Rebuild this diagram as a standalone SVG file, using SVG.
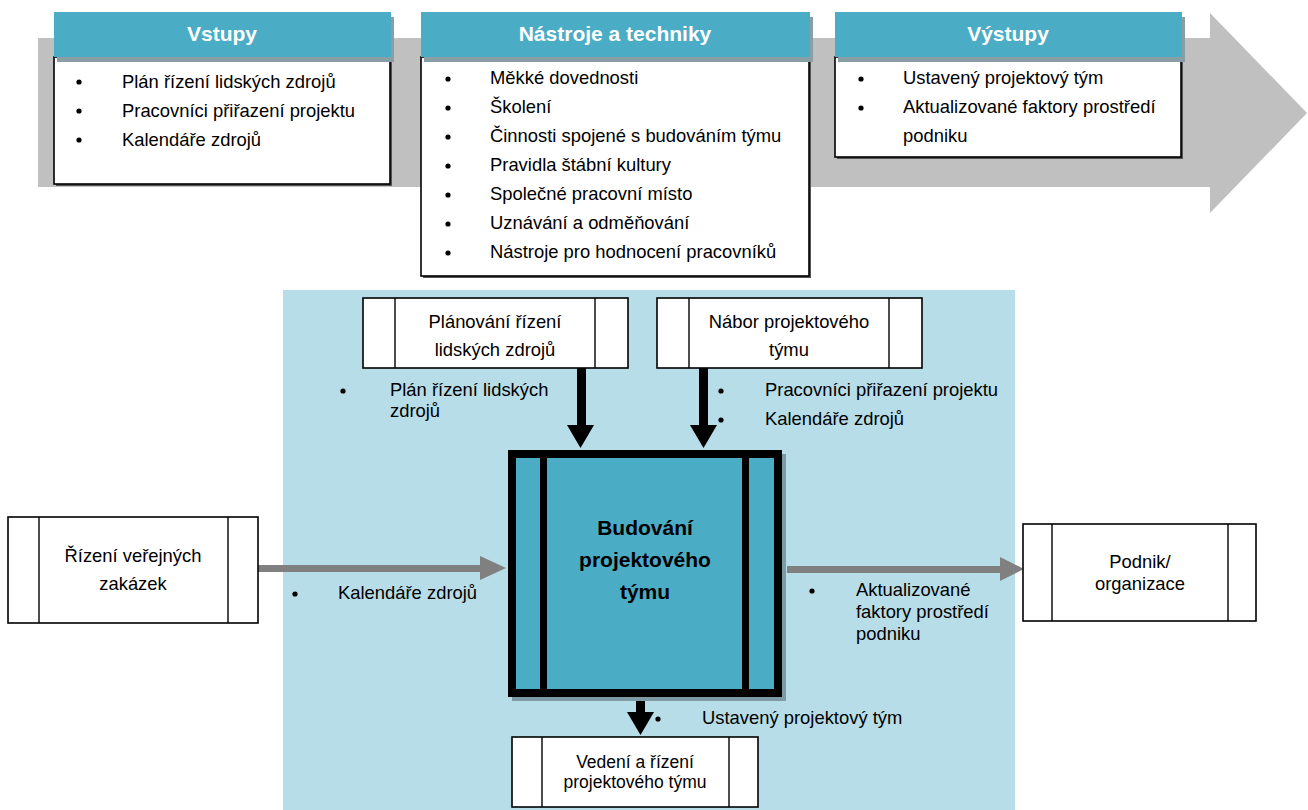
<svg xmlns="http://www.w3.org/2000/svg" width="1308" height="810" viewBox="0 0 1308 810">
  <defs>
    <style>
      .t { font-family: "Liberation Sans", Arial, sans-serif; font-size: 18.4px; fill: #000; }
      .tc { font-family: "Liberation Sans", Arial, sans-serif; font-size: 18.4px; fill: #000; text-anchor: middle; }
      .ts { font-family: "Liberation Sans", Arial, sans-serif; font-size: 17.5px; fill: #000; text-anchor: middle; }
      .hd { font-family: "Liberation Sans", Arial, sans-serif; font-size: 21px; font-weight: bold; fill: #fff; text-anchor: middle; }
      .mb { font-family: "Liberation Sans", Arial, sans-serif; font-size: 21px; font-weight: bold; fill: #000; text-anchor: middle; }
      .hdr { fill: #4BACC6; }
      .hsh { fill: #8A9EA5; }
      .panel { fill: #fff; stroke: #000; stroke-width: 1.6; }
      .psh { fill: #555; }
      .proc { fill: #fff; stroke: #000; stroke-width: 1.6; }
      .bar { stroke: #000; stroke-width: 1.4; }
      .blk { fill: #000; }
      .gry { fill: #808080; }
    </style>
  </defs>

  <!-- background flow arrow -->
  <polygon points="38,38 1210,38 1210,13 1307,113 1210,213 1210,187 38,187" fill="#C0C0C0"/>

  <!-- light blue process zone -->
  <rect x="283" y="290" width="732" height="520" fill="#B7DDE8"/>

  <!-- Inputs panel -->
  <g id="vstupy">
    <rect class="psh" x="56" y="59" width="336" height="127"/>
    <rect class="panel" x="54" y="57" width="336" height="127"/>
    <rect class="hsh" x="57" y="17" width="337" height="45"/>
    <rect class="hdr" x="54" y="12" width="337" height="45"/>
    <text class="hd" x="222" y="41">Vstupy</text>
    <circle cx="79" cy="82" r="2.6"/>
    <text class="t" x="122" y="88">Plán řízení lidských zdrojů</text>
    <circle cx="79" cy="111" r="2.6"/>
    <text class="t" x="122" y="117">Pracovníci přiřazení projektu</text>
    <circle cx="79" cy="140" r="2.6"/>
    <text class="t" x="122" y="146">Kalendáře zdrojů</text>
  </g>

  <!-- Tools and techniques panel -->
  <g id="nastroje">
    <rect class="psh" x="423" y="59" width="388" height="219"/>
    <rect class="panel" x="421" y="57" width="388" height="219"/>
    <rect class="hsh" x="424" y="17" width="389" height="45"/>
    <rect class="hdr" x="421" y="12" width="389" height="45"/>
    <text class="hd" x="615" y="41">Nástroje a techniky</text>
    <circle cx="448" cy="79" r="2.6"/>
    <text class="t" x="490" y="84">Měkké dovednosti</text>
    <circle cx="448" cy="108" r="2.6"/>
    <text class="t" x="490" y="113">Školení</text>
    <circle cx="448" cy="137" r="2.6"/>
    <text class="t" x="490" y="142">Činnosti spojené s budováním týmu</text>
    <circle cx="448" cy="166" r="2.6"/>
    <text class="t" x="490" y="171">Pravidla štábní kultury</text>
    <circle cx="448" cy="195" r="2.6"/>
    <text class="t" x="490" y="200">Společné pracovní místo</text>
    <circle cx="448" cy="224" r="2.6"/>
    <text class="t" x="490" y="229">Uznávání a odměňování</text>
    <circle cx="448" cy="253" r="2.6"/>
    <text class="t" x="490" y="258">Nástroje pro hodnocení pracovníků</text>
  </g>

  <!-- Outputs panel -->
  <g id="vystupy">
    <rect class="psh" x="837" y="59" width="346" height="100"/>
    <rect class="panel" x="835" y="57" width="346" height="100"/>
    <rect class="hsh" x="838" y="17" width="347" height="45"/>
    <rect class="hdr" x="835" y="12" width="347" height="45"/>
    <text class="hd" x="1008" y="41">Výstupy</text>
    <circle cx="861" cy="79" r="2.6"/>
    <text class="t" x="903" y="84">Ustavený projektový tým</text>
    <circle cx="861" cy="108" r="2.6"/>
    <text class="t" x="903" y="113">Aktualizované faktory prostředí</text>
    <text class="t" x="903" y="142">podniku</text>
  </g>

  <!-- connectors -->
  <g id="connectors">
    <rect class="blk" x="577" y="368" width="9" height="58"/>
    <polygon class="blk" points="567,425 594,425 580.5,448"/>
    <rect class="blk" x="699" y="368" width="9" height="58"/>
    <polygon class="blk" points="690,425 717,425 703.5,448"/>
    <rect class="gry" x="258" y="565" width="224" height="7"/>
    <polygon class="gry" points="480,556 506,568 480,580"/>
    <rect class="gry" x="787" y="566" width="214" height="7"/>
    <polygon class="gry" points="1000,557 1024,569 1000,581"/>
    <rect class="blk" x="636" y="697" width="9" height="16"/>
    <polygon class="blk" points="627,712 654,712 640.5,735"/>
  </g>

  <!-- connector labels -->
  <g id="labels">
    <circle cx="343" cy="391" r="2.6"/>
    <text class="t" x="390" y="396">Plán řízení lidských</text>
    <text class="t" x="390" y="417">zdrojů</text>
    <circle cx="721" cy="391" r="2.6"/>
    <text class="t" x="765" y="396">Pracovníci přiřazení projektu</text>
    <circle cx="721" cy="420" r="2.6"/>
    <text class="t" x="765" y="425">Kalendáře zdrojů</text>
    <circle cx="295" cy="594" r="2.6"/>
    <text class="t" x="338" y="599">Kalendáře zdrojů</text>
    <circle cx="812" cy="591" r="2.6"/>
    <text class="t" x="856" y="596">Aktualizované</text>
    <text class="t" x="856" y="618">faktory prostředí</text>
    <text class="t" x="856" y="640">podniku</text>
    <circle cx="658" cy="719" r="2.6"/>
    <text class="t" x="702" y="724">Ustavený projektový tým</text>
  </g>

  <!-- central process -->
  <g id="budovani">
    <rect x="512" y="454" width="274" height="247" fill="#7E9BA5"/>
    <rect x="512" y="454" width="266" height="239" fill="#4BACC6" stroke="#000" stroke-width="8"/>
    <rect class="blk" x="540" y="454" width="7" height="239"/>
    <rect class="blk" x="742" y="454" width="7" height="239"/>
    <text class="mb" x="645" y="535">Budování</text>
    <text class="mb" x="645" y="567">projektového</text>
    <text class="mb" x="645" y="599">týmu</text>
  </g>

  <!-- neighbouring processes -->
  <g id="planovani">
    <rect class="proc" x="363" y="298" width="265" height="70"/>
    <line class="bar" x1="395" y1="298" x2="395" y2="368"/>
    <line class="bar" x1="595" y1="298" x2="595" y2="368"/>
    <text class="tc" x="495" y="328">Plánování řízení</text>
    <text class="tc" x="495" y="356">lidských zdrojů</text>
  </g>

  <g id="nabor">
    <rect class="proc" x="657" y="298" width="265" height="70"/>
    <line class="bar" x1="689" y1="298" x2="689" y2="368"/>
    <line class="bar" x1="889" y1="298" x2="889" y2="368"/>
    <text class="tc" x="789" y="328">Nábor projektového</text>
    <text class="tc" x="789" y="356">týmu</text>
  </g>

  <g id="rizeni-zakazek">
    <rect class="proc" x="8" y="517" width="250" height="106"/>
    <line class="bar" x1="39" y1="517" x2="39" y2="623"/>
    <line class="bar" x1="228" y1="517" x2="228" y2="623"/>
    <text class="tc" x="133" y="562">Řízení veřejných</text>
    <text class="tc" x="133" y="590">zakázek</text>
  </g>

  <g id="podnik">
    <rect class="proc" x="1023" y="524" width="233" height="97"/>
    <line class="bar" x1="1052" y1="524" x2="1052" y2="621"/>
    <line class="bar" x1="1228" y1="524" x2="1228" y2="621"/>
    <text class="tc" x="1140" y="568">Podnik/</text>
    <text class="tc" x="1140" y="590">organizace</text>
  </g>

  <g id="vedeni">
    <rect class="proc" x="512" y="737" width="246" height="70"/>
    <line class="bar" x1="542" y1="737" x2="542" y2="807"/>
    <line class="bar" x1="729" y1="737" x2="729" y2="807"/>
    <text class="ts" x="635" y="768">Vedení a řízení</text>
    <text class="ts" x="635" y="788">projektového týmu</text>
  </g>
</svg>
